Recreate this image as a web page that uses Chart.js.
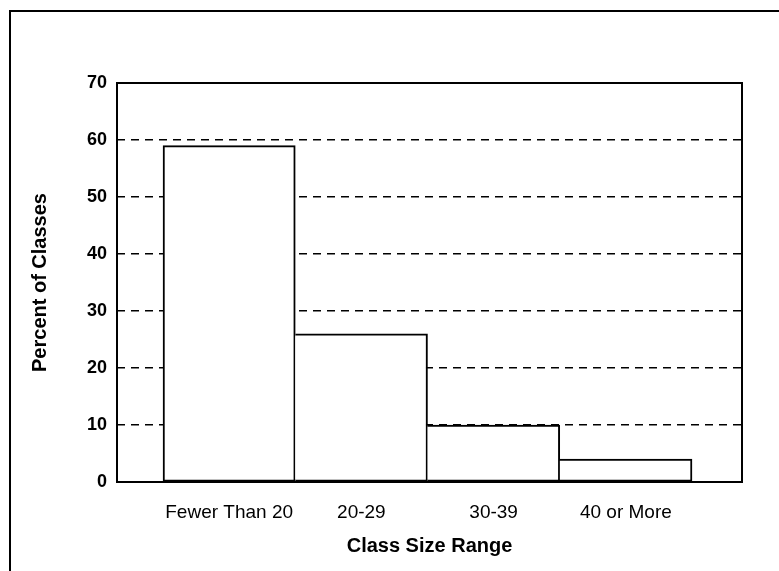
<!DOCTYPE html>
<html>
<head>
<meta charset="utf-8">
<script src="https://cdn.jsdelivr.net/npm/chart.js@4"></script>
<style>
  html, body { margin: 0; padding: 0; background: #fff; }
  #wrap { position: relative; width: 779px; height: 571px; overflow: hidden; }
  #frame { position: absolute; left: 9px; top: 10px; width: 800px; height: 600px;
           border-left: 2px solid #000; border-top: 2px solid #000; }
  #chart { position: absolute; left: 0; top: 0; }
</style>
</head>
<body>
<div id="wrap">
  <div id="frame"></div>
  <canvas id="chart" width="779" height="571"></canvas>
</div>
<script>
const categories = ['Fewer Than 20', '20-29', '30-39', '40 or More'];
const percentValues = [59, 26, 10, 4];
const yTicks = [0, 10, 20, 30, 40, 50, 60, 70];
const xTitle = 'Class Size Range';
const yTitle = 'Percent of Classes';

const FONT = "'Liberation Sans', Arial, Helvetica, sans-serif";

// bars sit next to each other, so use a linear x axis with one unit per bar
const barPoints = percentValues.map((v, i) => ({ x: i, y: v }));

// plot frame around the chart area
const plotFrame = {
    id: 'plotFrame',
    afterDraw(chart) {
        const { ctx, chartArea: a } = chart;
        ctx.save();
        ctx.strokeStyle = '#000';
        ctx.lineWidth = 2;
        ctx.strokeRect(a.left, a.top, a.right - a.left, a.bottom - a.top);
        ctx.restore();
    }
};

new Chart(document.getElementById('chart'), {
    type: 'bar',
    data: {
        datasets: [{
            data: barPoints,
            backgroundColor: '#fff',
            borderColor: '#000',
            borderWidth: 2,
            // neighbours share one edge: only the first bar draws its left side
            borderSkipped: ctx => ctx.dataIndex === 0 ? false : 'left',
            barPercentage: 1,
            categoryPercentage: 1
        }]
    },
    options: {
        responsive: false,
        animation: false,
        layout: { padding: { left: 20, right: 37, top: 83, bottom: 0 } },
        plugins: {
            legend: { display: false },
            tooltip: { enabled: false }
        },
        scales: {
            x: {
                type: 'linear',
                offset: false,
                min: -0.848,
                max: 3.878,
                afterBuildTicks: scale => {
                    scale.ticks = categories.map((c, i) => ({ value: i }));
                },
                afterFit: scale => { scale.height = 89; },
                grid: { display: false, drawTicks: false },
                border: { display: false },
                ticks: {
                    autoSkip: false,
                    maxRotation: 0,
                    padding: 19,
                    color: '#000',
                    font: { family: FONT, size: 19 },
                    callback: v => categories[v]
                },
                title: {
                    display: true,
                    text: xTitle,
                    color: '#000',
                    font: { family: FONT, size: 20, weight: 'bold' },
                    padding: { top: 0, bottom: 13 }
                }
            },
            y: {
                min: 0,
                max: 70,
                afterBuildTicks: scale => {
                    scale.ticks = yTicks.map(v => ({ value: v }));
                },
                afterFit: scale => { scale.width = 97; },
                grid: { color: '#000', lineWidth: 1.4, drawTicks: false },
                border: { display: false, dash: [8, 6] },
                ticks: {
                    padding: 10,
                    color: '#000',
                    font: { family: FONT, size: 18, weight: 'bold' }
                },
                title: {
                    display: true,
                    text: yTitle,
                    color: '#000',
                    font: { family: FONT, size: 20, weight: 'bold' },
                    padding: { top: 8, bottom: 0 }
                }
            }
        }
    },
    plugins: [plotFrame]
});
</script>
</body>
</html>
